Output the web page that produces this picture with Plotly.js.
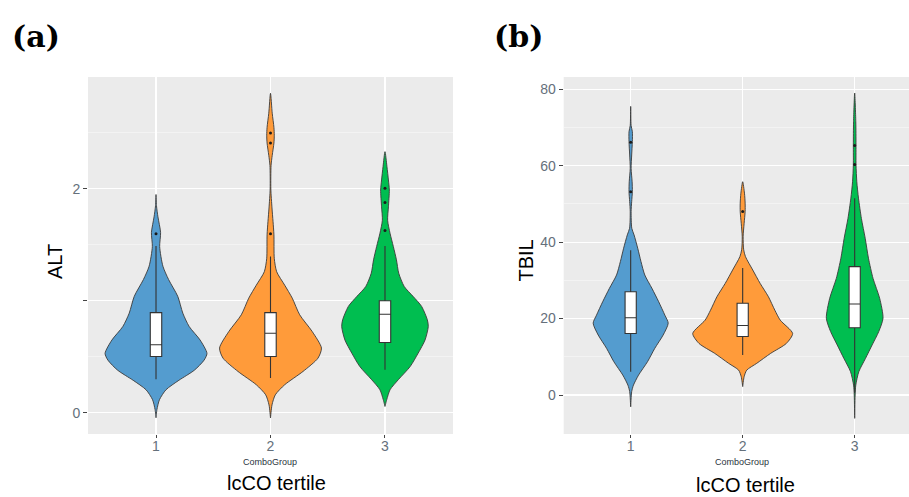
<!DOCTYPE html>
<html>
<head>
<meta charset="utf-8">
<script src="https://cdn.plot.ly/plotly-3.0.1.min.js"></script>
<style>html,body{margin:0;padding:0;background:#fff;}#chart{width:909px;height:497px;}</style>
</head>
<body>
<div id="chart"></div>
<script>
// ---------- Data ----------
var groups = [1, 2, 3];
var groupLabels = ['1', '2', '3'];
var groupColors = ['#549CCF', '#FF9B3A', '#00BE50'];

// Panel (a) ALT: violin outline, value levels and half-widths (category units)
var altLevels1 = [1.95, 1.85, 1.75, 1.61, 1.485, 1.31, 1.19, 1.04, 0.89, 0.77, 0.65, 0.53, 0.47, 0.38, 0.29, 0.205, 0.116, 0.027, -0.045];
var altHalfW1  = [0, 0.004, 0.017, 0.04, 0.032, 0.06, 0.11, 0.19, 0.234, 0.29, 0.385, 0.445, 0.42, 0.335, 0.2, 0.087, 0.03, 0.008, 0];
var altLevels2 = [2.854, 2.676, 2.55, 2.48, 2.41, 2.3, 2.21, 2.0, 1.83, 1.71, 1.59, 1.38, 1.26, 1.14, 1.024, 0.875, 0.726, 0.578, 0.488, 0.369, 0.25, 0.16, 0.07, -0.047];
var altHalfW2  = [0, 0.015, 0.03, 0.033, 0.03, 0.015, 0.005, 0.003, 0.013, 0.022, 0.03, 0.033, 0.054, 0.124, 0.19, 0.255, 0.364, 0.445, 0.415, 0.284, 0.124, 0.042, 0.013, 0];
var altLevels3 = [2.333, 2.2, 2.08, 1.99, 1.84, 1.72, 1.604, 1.485, 1.366, 1.247, 1.128, 1.04, 0.95, 0.83, 0.77, 0.65, 0.533, 0.413, 0.295, 0.205, 0.116, 0.056];
var altHalfW3  = [0, 0.017, 0.03, 0.038, 0.03, 0.023, 0.044, 0.073, 0.1, 0.12, 0.168, 0.245, 0.32, 0.37, 0.378, 0.35, 0.29, 0.22, 0.116, 0.044, 0.015, 0];

// Panel (a) ALT: box statistics
var altQ1     = [0.503, 0.503, 0.628];
var altMedian = [0.607, 0.71, 0.88];
var altQ3     = [0.895, 0.895, 1.0];
var altLow    = [0.30, 0.31, 0.384];
var altHigh   = [1.49, 1.395, 1.49];
var altOutX   = [1, 2, 2, 2, 3, 3, 3];
var altOutY   = [1.60, 2.50, 2.41, 1.60, 2.006, 1.878, 1.628];

// Panel (b) TBIL: violin outline
var tbilLevels1 = [75.5, 70.5, 68.9, 66.3, 62.8, 59.3, 55.8, 53.2, 50.6, 48, 43.6, 41.9, 38.4, 34.9, 31.4, 27.9, 24.4, 20.9, 18.8, 15.7, 12.2, 8.7, 5.2, 2.6, 0.9, -3.1];
var tbilHalfW1  = [0, 0.004, 0.015, 0.015, 0.009, 0.004, 0.013, 0.015, 0.009, 0.004, 0.01, 0.03, 0.063, 0.092, 0.126, 0.19, 0.25, 0.305, 0.335, 0.29, 0.215, 0.15, 0.07, 0.025, 0.009, 0];
var tbilLevels2 = [55.8, 52.8, 50.2, 48, 44.9, 41.4, 38, 36.2, 32.7, 29.2, 25.7, 22.2, 19.6, 16.1, 13.5, 10.9, 8.3, 6.5, 4.8, 2.2];
var tbilHalfW2  = [0, 0.016, 0.022, 0.022, 0.013, 0.004, 0.009, 0.025, 0.09, 0.156, 0.23, 0.287, 0.335, 0.446, 0.39, 0.25, 0.126, 0.036, 0.013, 0];
var tbilLevels3 = [79.0, 71.5, 65.4, 60.2, 55.8, 51.5, 46.2, 41, 35.8, 30.5, 25.3, 20.1, 16.6, 13.1, 9.6, 6.1, 2.6, 0, -6.1];
var tbilHalfW3  = [0, 0.01, 0.012, 0.012, 0.019, 0.034, 0.06, 0.094, 0.123, 0.164, 0.223, 0.253, 0.215, 0.156, 0.097, 0.037, 0.01, 0.004, 0];

// Panel (b) TBIL: box statistics
var tbilQ1     = [16.1, 15.3, 17.6];
var tbilMedian = [20.2, 18.2, 23.8];
var tbilQ3     = [27.0, 24.0, 33.6];
var tbilLow    = [6.1, 10.5, 0.5];
var tbilHigh   = [37.9, 33.2, 51.5];
var tbilOutX   = [1, 1, 2, 3, 3];
var tbilOutY   = [66.1, 53.2, 48.0, 65.3, 60.3];

// ---------- Build traces ----------
function violinTrace(center, levels, halfW, color, xa, ya) {
  var xs = [], ys = [];
  for (var i = 0; i < levels.length; i++) { xs.push(center + halfW[i]); ys.push(levels[i]); }
  for (var j = levels.length - 1; j >= 0; j--) { xs.push(center - halfW[j]); ys.push(levels[j]); }
  return {
    type: 'scatter', mode: 'lines', x: xs, y: ys, fill: 'toself',
    fillcolor: color, line: {color: '#3a3a3a', width: 0.9, shape: 'spline', smoothing: 0.7},
    xaxis: xa, yaxis: ya, hoverinfo: 'skip'
  };
}
function boxTrace(q1, med, q3, lo, hi, xa, ya) {
  return {
    type: 'box', x: groups, q1: q1, median: med, q3: q3, lowerfence: lo, upperfence: hi,
    width: 0.1, whiskerwidth: 0, fillcolor: '#ffffff', boxpoints: false,
    line: {color: '#333333', width: 1.1}, xaxis: xa, yaxis: ya
  };
}
function outlierTrace(xs, ys, xa, ya) {
  return {type: 'scatter', mode: 'markers', x: xs, y: ys,
    marker: {color: '#1a1a1a', size: 3}, xaxis: xa, yaxis: ya};
}

var altLevels = [altLevels1, altLevels2, altLevels3];
var altHalfW = [altHalfW1, altHalfW2, altHalfW3];
var tbilLevels = [tbilLevels1, tbilLevels2, tbilLevels3];
var tbilHalfW = [tbilHalfW1, tbilHalfW2, tbilHalfW3];

var traces = [];
for (var g = 0; g < groups.length; g++) {
  traces.push(violinTrace(groups[g], altLevels[g], altHalfW[g], groupColors[g], 'x', 'y'));
  traces.push(violinTrace(groups[g], tbilLevels[g], tbilHalfW[g], groupColors[g], 'x2', 'y2'));
}
// boxes and outliers on overlaying axes so they are drawn above the violins
traces.push(boxTrace(altQ1, altMedian, altQ3, altLow, altHigh, 'x3', 'y3'));
traces.push(boxTrace(tbilQ1, tbilMedian, tbilQ3, tbilLow, tbilHigh, 'x4', 'y4'));
traces.push(outlierTrace(altOutX, altOutY, 'x3', 'y3'));
traces.push(outlierTrace(tbilOutX, tbilOutY, 'x4', 'y4'));

// ---------- Layout ----------
var W = 909, H = 497;
var tickFont = {family: 'Liberation Sans, Arial, sans-serif', size: 14, color: '#65707b'};
function xAxis(dom, rng, anchor) {
  return {domain: dom, range: rng, anchor: anchor, tickvals: groups, ticktext: groupLabels,
    showgrid: true, gridcolor: '#ffffff', gridwidth: 1.1, zeroline: false, showline: false,
    ticks: 'outside', ticklen: 3, tickcolor: '#444', tickfont: tickFont, ticklabelstandoff: -4,
    automargin: false, fixedrange: true};
}
function yAxis(dom, rng, anchor, tv, tt, minorVals) {
  return {domain: dom, range: rng, anchor: anchor, tickvals: tv, ticktext: tt,
    showgrid: true, gridcolor: '#ffffff', gridwidth: 1.1, zeroline: false, showline: false,
    ticks: 'outside', ticklen: 4, tickcolor: '#444', tickfont: tickFont, automargin: false, fixedrange: true,
    minor: {tickvals: minorVals, showgrid: true, gridcolor: '#f7f7f7', gridwidth: 0.7, ticks: ''}};
}
function hiddenAxis(dom, rng, anchor, over) {
  return {domain: dom, range: rng, anchor: anchor, overlaying: over, visible: false,
    showgrid: false, zeroline: false, fixedrange: true};
}
var yDom = [(H - 434) / H, (H - 77) / H];
var xDomA = [88 / W, 453 / W], xDomB = [563.7 / W, 1];
var altXRange = [0.406, 3.594], tbilXRange = [0.402, 3.485];
var altYRange = [-0.19, 3.0], tbilYRange = [-10.2, 83.2];

function ann(text, px, py, size, opts) {
  var a = {text: text, x: px / W, y: 1 - py / H, xref: 'paper', yref: 'paper',
    xanchor: 'center', yanchor: 'middle', showarrow: false,
    font: {family: 'Liberation Sans, Arial, sans-serif', size: size, color: '#000'}};
  for (var k in opts) a[k] = opts[k];
  return a;
}
var panelFont = {family: 'DejaVu Serif, serif', size: 30, color: '#000'};
var smallFont = {family: 'Liberation Sans, Arial, sans-serif', size: 9, color: '#2b3440'};

var layout = {
  width: W, height: H, margin: {l: 0, r: 0, t: 0, b: 0},
  paper_bgcolor: '#ffffff', plot_bgcolor: '#EBEBEB', showlegend: false, boxmode: 'overlay',
  xaxis: xAxis(xDomA, altXRange, 'y'),
  yaxis: yAxis(yDom, altYRange, 'x', [0, 1, 2], ['0', '', '2'], [0.5, 1.5, 2.5]),
  xaxis2: xAxis(xDomB, tbilXRange, 'y2'),
  yaxis2: yAxis(yDom, tbilYRange, 'x2', [0, 20, 40, 60, 80], ['0', '20', '40', '60', '80'], [-10, 10, 30, 50, 70]),
  xaxis3: hiddenAxis(xDomA, altXRange, 'y3', 'x'),
  yaxis3: hiddenAxis(yDom, altYRange, 'x3', 'y'),
  xaxis4: hiddenAxis(xDomB, tbilXRange, 'y4', 'x2'),
  yaxis4: hiddenAxis(yDom, tbilYRange, 'x4', 'y2'),
  annotations: [
    ann('<b>(a)</b>', 35.5, 36, 30, {font: panelFont}),
    ann('<b>(b)</b>', 518, 36, 30, {font: panelFont}),
    ann('ALT', 55, 262, 20, {textangle: -90}),
    ann('TBIL', 525, 260.5, 20, {textangle: -90}),
    ann('ComboGroup', 270, 462, 9, {font: smallFont}),
    ann('ComboGroup', 741.7, 462, 9, {font: smallFont}),
    ann('lcCO tertile', 276.5, 483, 20, {}),
    ann('lcCO tertile', 745.8, 485, 20, {})
  ]
};

Plotly.newPlot('chart', traces, layout, {displayModeBar: false, staticPlot: true});
</script>
</body>
</html>
